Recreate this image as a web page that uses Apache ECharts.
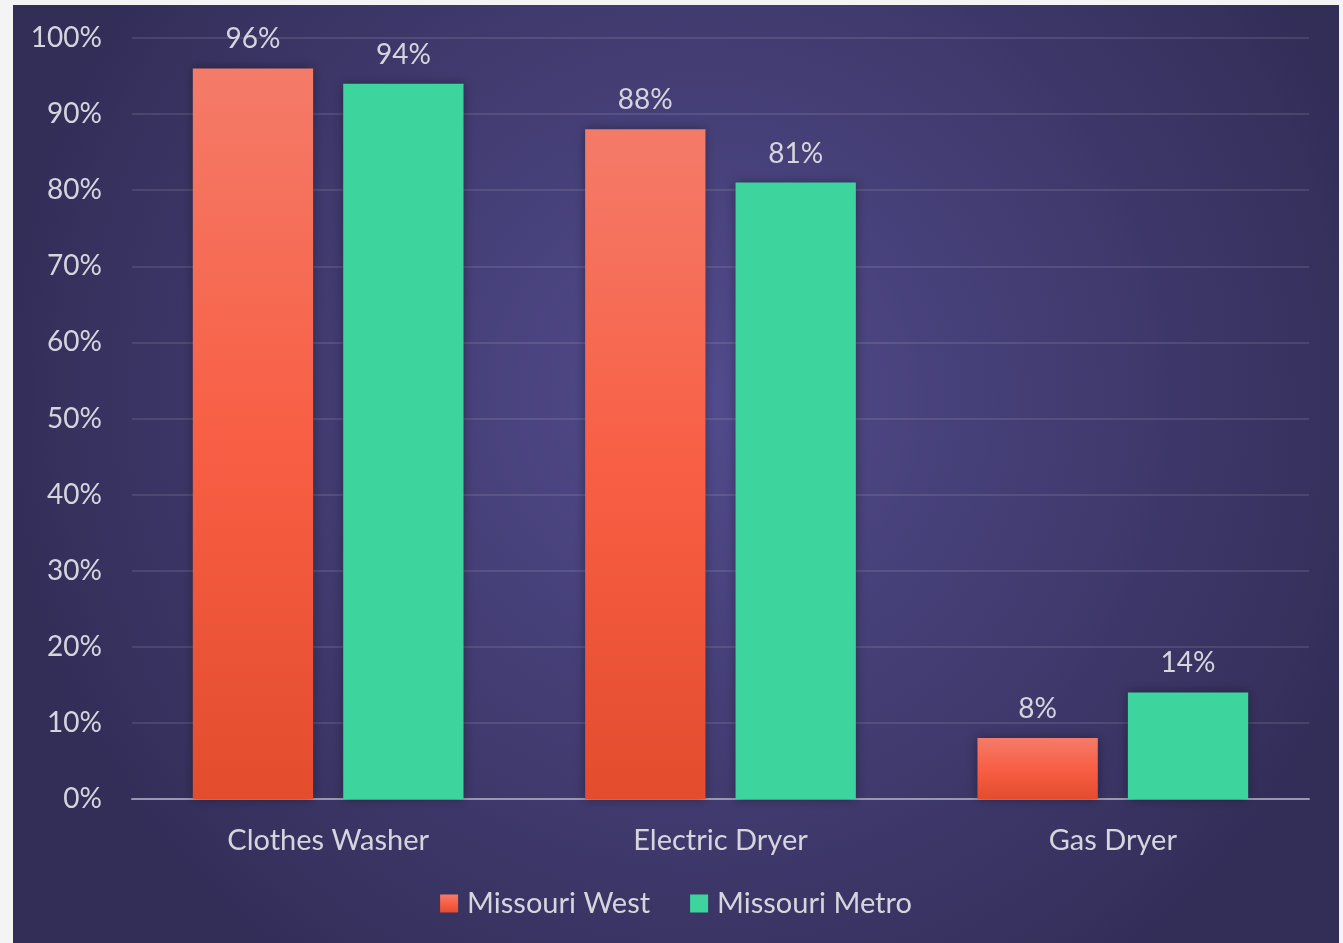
<!DOCTYPE html>
<html>
<head>
<meta charset="utf-8">
<script src="https://cdn.jsdelivr.net/npm/echarts@6/dist/echarts.min.js"></script>
<style>
html,body{margin:0;padding:0;background:#f4f4f4;width:1343px;height:943px;overflow:hidden;}
#chart{position:absolute;left:13px;top:5px;width:1326px;height:938px;}
</style>
</head>
<body>
<div id="chart"></div>
<script>
const categories = ['Clothes Washer', 'Electric Dryer', 'Gas Dryer'];
const seriesNames = ['Missouri West', 'Missouri Metro'];
const missouriWest = [96, 88, 8];
const missouriMetro = [94, 81, 14];
const yTicks = [0, 10, 20, 30, 40, 50, 60, 70, 80, 90, 100];

const FONT = 'Lato';
const TXT = '#d6d5de';

const chart = echarts.init(document.getElementById('chart'));
const labelCfg = {
  show: true, position: 'top', distance: 15,
  color: TXT, fontFamily: FONT, fontSize: 28,
  formatter: p => p.value + '%'
};
chart.setOption({
  backgroundColor: {
    type: 'radial', x: 0.52, y: 0.42, r: 0.75,
    colorStops: [
      { offset: 0, color: '#524b8d' },
      { offset: 1, color: '#332e58' }
    ]
  },
  grid: { left: 119, right: 30, top: 33, bottom: 144, containLabel: false },
  legend: {
    bottom: 20, left: 'center',
    itemWidth: 18, itemHeight: 18, itemGap: 40,
    icon: 'rect',
    textStyle: { color: TXT, fontFamily: FONT, fontSize: 29, padding: [0, 0, 0, 4] },
    data: seriesNames
  },
  xAxis: {
    type: 'category', data: categories,
    axisLine: { lineStyle: { color: '#9a97b3', width: 2 } },
    axisTick: { show: false },
    axisLabel: { color: TXT, fontFamily: FONT, fontSize: 29, margin: 27 }
  },
  yAxis: {
    type: 'value', min: yTicks[0], max: yTicks[yTicks.length - 1], interval: 10,
    axisLine: { show: false }, axisTick: { show: false },
    splitLine: { lineStyle: { color: 'rgba(255,255,255,0.1)', width: 2 } },
    axisLabel: { color: TXT, fontFamily: FONT, fontSize: 28, margin: 30, formatter: v => v + '%' }
  },
  series: [
    {
      name: seriesNames[0], type: 'bar', data: missouriWest,
      barGap: '25%', barCategoryGap: '31%',
      itemStyle: {
        color: { type: 'linear', x: 0, y: 0, x2: 0, y2: 1, colorStops: [
          { offset: 0, color: '#f47b69' }, { offset: 0.5, color: '#f85f44' }, { offset: 1, color: '#e44c2e' } ] },
        shadowBlur: 10, shadowColor: 'rgba(0,0,0,0.35)'
      },
      label: labelCfg
    },
    {
      name: seriesNames[1], type: 'bar', data: missouriMetro,
      itemStyle: { color: '#3dd49e', shadowBlur: 10, shadowColor: 'rgba(0,0,0,0.35)' },
      label: labelCfg
    }
  ]
});
</script>
</body>
</html>
